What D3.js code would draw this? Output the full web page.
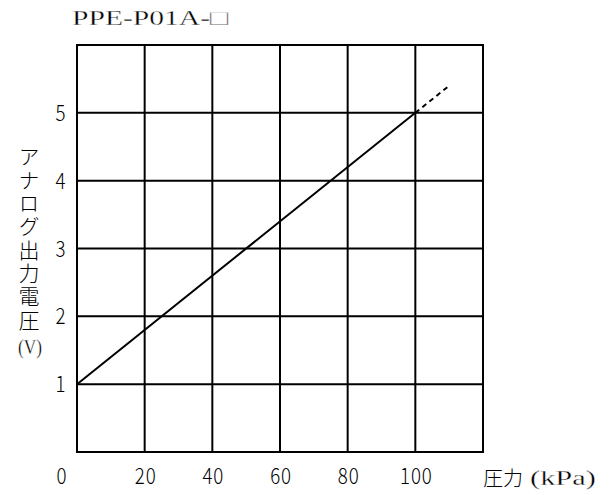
<!DOCTYPE html>
<html><head><meta charset="utf-8">
<script src="https://cdn.jsdelivr.net/npm/d3@7"></script>
<style>body{margin:0;background:#fff}svg{display:block}text{font-weight:400}</style>
</head><body>
<script>
const title = "PPE-P01A-□";
const xTickLabels = [0, 20, 40, 60, 80, 100];
const yTickLabels = [1, 2, 3, 4, 5];
const xGrid = [0, 20, 40, 60, 80, 100, 120];
const yGrid = [0, 1, 2, 3, 4, 5, 6];
const pressure = [0, 100];
const voltage = [1, 5];
const extPressure = [100, 110];
const extVoltage = [5, 5.4];
const yLabel = "アナログ出力電圧";
const yUnit = "(V)";
const xLabelJa = "圧力";
const xLabelUnit = "(kPa)";

const W = 611, H = 495;
const svg = d3.select("body").append("svg").attr("width", W).attr("height", H);
const x = d3.scaleLinear().domain([0, 120]).range([77, 483]);
const y = d3.scaleLinear().domain([0, 6]).range([452, 45]);

const g = svg.append("g");
g.selectAll("line.vx").data(xGrid).join("line").attr("class","vx")
  .attr("x1", d => x(d)).attr("x2", d => x(d))
  .attr("y1", y(0)).attr("y2", y(6))
  .attr("stroke", "#000").attr("stroke-width", 2);
g.selectAll("line.hy").data(yGrid).join("line").attr("class","hy")
  .attr("y1", d => y(d)).attr("y2", d => y(d))
  .attr("x1", x(0) - 1).attr("x2", x(120) + 1)
  .attr("stroke", "#000").attr("stroke-width", 2);

const line = d3.line().x(d => x(d[0])).y(d => y(d[1]));
svg.append("path").datum(pressure.map((p, i) => [p, voltage[i]]))
  .attr("d", line).attr("fill", "none").attr("stroke", "#000").attr("stroke-width", 2);
svg.append("path").datum(extPressure.map((p, i) => [p, extVoltage[i]]))
  .attr("d", line).attr("fill", "none").attr("stroke", "#000").attr("stroke-width", 2)
  .attr("stroke-dasharray", "5,4");

const numFont = "'Noto Sans CJK JP', sans-serif";
function num(sel) {
  sel.attr("font-family", numFont).style("font-weight", 300).attr("font-size", 22)
    .attr("text-anchor", "middle").attr("fill", "#000").attr("letter-spacing", 1);
}
// x tick labels
svg.selectAll("text.xt").data(xTickLabels).join("text").attr("class","xt")
  .attr("transform", d => `translate(${d === 0 ? 62 : x(d) + 1},484) scale(0.85,1)`)
  .text(d => d).call(num);
// y tick labels
svg.selectAll("text.yt").data(yTickLabels).join("text").attr("class","yt")
  .attr("transform", d => `translate(61,${y(d) + 8}) scale(0.85,1)`)
  .text(d => d).call(num);

const serif = "'Liberation Serif', 'Times New Roman', serif";
function thin(sel) {
  sel.attr("stroke", "#fff").attr("stroke-width", 0.3).style("paint-order", "fill");
}
// fit text to a target width by horizontal scaling
function fitText(x0, y0, str, size, targetW, anchor) {
  const t = svg.append("text").attr("font-family", serif).style("font-weight", 400)
    .attr("font-size", size).attr("fill", "#000").attr("text-anchor", anchor || "start").text(str).call(thin);
  const w = t.node().getComputedTextLength();
  t.attr("transform", `translate(${x0},${y0}) scale(${targetW / w},1)`);
  return t;
}
fitText(72, 25, title, 21, 156);
fitText(30, 354, yUnit, 21, 24, "middle");

// y label vertical
svg.append("text")
  .attr("x", 29).attr("y", 146)
  .style("writing-mode", "vertical-rl")
  .attr("font-family", "'Noto Sans CJK JP', sans-serif").style("font-weight", 300)
  .attr("font-size", 21).attr("letter-spacing", 2.3).attr("fill", "#000").text(yLabel);

// x label
svg.append("text").attr("x", 483).attr("y", 486)
  .attr("font-family", "'Noto Sans CJK JP', sans-serif").style("font-weight", 300)
  .attr("font-size", 20).attr("fill", "#000").text(xLabelJa);
fitText(530, 485, xLabelUnit, 21, 66);
</script>
</body></html>
